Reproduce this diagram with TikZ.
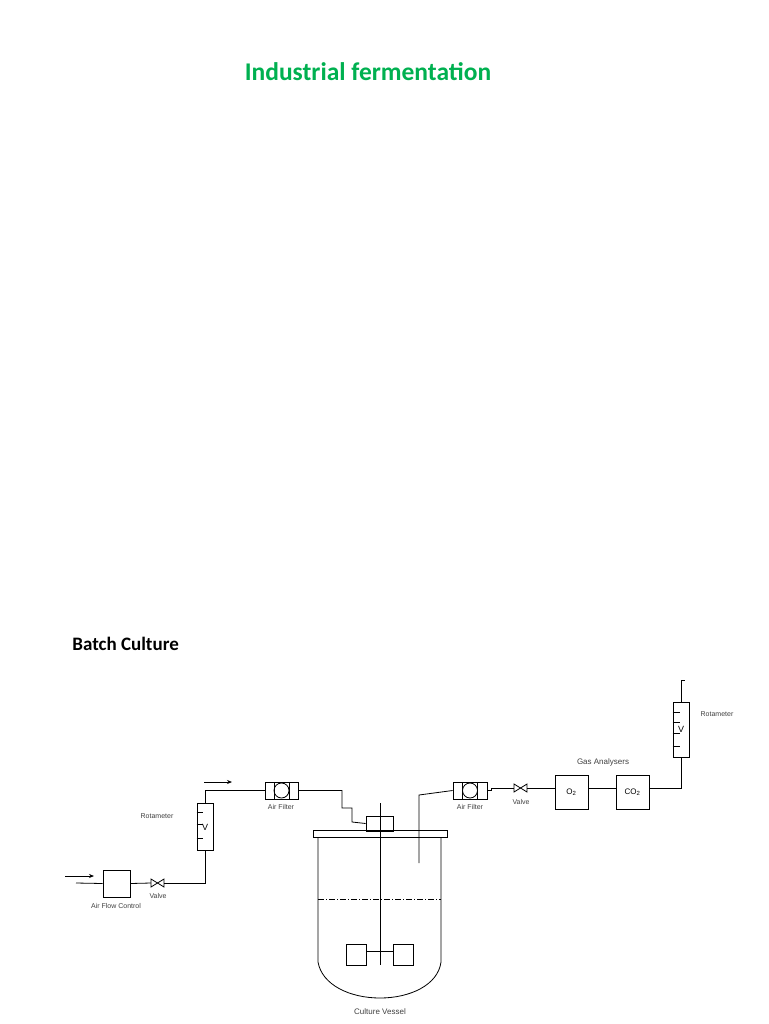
\documentclass[tikz,border=0pt]{standalone}
\usepackage{fontspec}
\setmainfont{Carlito}
\newfontfamily\arial{Liberation Sans}
\usetikzlibrary{arrows.meta}
\definecolor{tgreen}{RGB}{0,176,80}
\begin{document}
\begin{tikzpicture}[x=1pt,y=-1pt,line width=0.8pt,
  lbl/.style={font=\arial\fontsize{7}{8}\selectfont,text=black!75,inner sep=0},
  box/.style={draw,minimum width=27pt,minimum height=27pt,inner sep=0},
  arr/.style={-{Stealth[length=5pt,width=4pt]}}]
\useasboundingbox (0,0) rectangle (768,1024);
\node[font=\bfseries\fontsize{25.5}{28}\selectfont,text=tgreen] (title) at (368,72) {Industrial fermentation};
\node[font=\bfseries\fontsize{19}{21}\selectfont,anchor=west,inner sep=0] (batch) at (72,644) {Batch Culture};
% left side
\coordinate (a1) at (65,876); \coordinate (a2) at (94,876);
\draw[arr] (a1) -- (a2);
\node[box] (afc) at (116.5,883.5) {};
\node[lbl] (afcl) at (116,906) {Air Flow Control};
\coordinate (in) at (76,883);
\draw (in) -- (afc.west);
% valve 1
\coordinate (v1a) at (151,883); \coordinate (v1b) at (164,883);
\draw (151,879)--(164,887)--(164,879)--(151,887)--cycle;
\node[lbl] (v1l) at (158,896) {Valve};
\draw (afc.east) -- (v1a);
\node[draw,minimum width=16pt,minimum height=47pt,inner sep=0] (rot1) at (205,826.5) {};
\draw (v1b) -| (rot1.south);
\foreach \y in {812,824,838} \draw (rot1.west|-0,\y) -- ++(6,0);
\node[font=\arial\fontsize{9}{9}\selectfont,inner sep=0] (rv1) at (205,827) {V};
\node[lbl] (rot1l) at (157,816) {Rotameter};
\coordinate (a3) at (204,782); \coordinate (a4) at (232,782);
\draw[arr] (a3) -- (a4);
% air filter 1
\node[draw,minimum width=33pt,minimum height=17pt,inner sep=0] (af1) at (281.5,790.5) {};
\draw (274,782)--(274,799) (289,782)--(289,799);
\draw (281.5,790.5) circle (7.5);
\node[lbl] (af1l) at (281,807) {Air Filter};
\draw (rot1.north) |- (af1.west);
% vessel
\node[draw,minimum width=27pt,minimum height=15pt,inner sep=0] (sp) at (379.5,823.5) {};
\draw (af1.east) -- (342,790.5) -- (342,808) -- (352,808) -- (352,822) -- (sp.west);
\draw (313,830) rectangle (447,837);
\draw (318,837) -- (318,962) .. controls (322,985) and (350,998) .. (380,998) .. controls (410,998) and (438,985) .. (441,962) -- (441,837);
\draw[line width=0.6pt,dash pattern=on 6pt off 2pt on 1pt off 2pt] (318,899) -- (441,899);
\draw (380,803) -- (380,965);
\node[draw,minimum width=20pt,minimum height=21pt,inner sep=0] (imp1) at (356,954.5) {};
\node[draw,minimum width=20pt,minimum height=21pt,inner sep=0] (imp2) at (403,954.5) {};
\draw (imp1.east|-0,951) -- (imp2.west|-0,951);
\node[lbl,font=\arial\fontsize{8}{9}\selectfont] (cvl) at (380,1012) {Culture Vessel};
% right side
\node[draw,minimum width=34pt,minimum height=17pt,inner sep=0] (af2) at (470,790.5) {};
\draw (462.5,782)--(462.5,799) (477.5,782)--(477.5,799);
\draw (470,790.5) circle (7.5);
\node[lbl] (af2l) at (470,807) {Air Filter};
\draw (419,863) -- (419,795) -- (af2.west);
\coordinate (v2a) at (514,788); \coordinate (v2b) at (527,788);
\draw (514,784)--(527,792)--(527,784)--(514,792)--cycle;
\node[lbl] (v2l) at (521,802) {Valve};
\draw (af2.east) -- (491,790.5) -- (491,788) -- (v2a);
\node[box,minimum width=33pt,minimum height=34pt,font=\arial\fontsize{8}{9}\selectfont] (o2) at (571.5,792) {O\textsubscript{2}};
\node[box,minimum width=33pt,minimum height=34pt,font=\arial\fontsize{8}{9}\selectfont] (co2) at (632.5,792) {CO\textsubscript{2}};
\node[lbl,font=\arial\fontsize{8}{9}\selectfont] (gal) at (603,762) {Gas Analysers};
\draw (v2b) -- (o2.west|-0,788);
\draw (o2.east|-0,788) -- (co2.west|-0,788);
\node[draw,minimum width=16pt,minimum height=55pt,inner sep=0] (rot2) at (681,729.5) {};
\draw (co2.east|-0,788) -| (rot2.south);
\foreach \y in {712,722,733,746} \draw (rot2.west|-0,\y) -- ++(7,0);
\node[font=\arial\fontsize{9}{9}\selectfont,inner sep=0] (rv2) at (681,729) {V};
\node[lbl] (rot2l) at (717,714) {Rotameter};
\coordinate (top) at (685,680);
\draw (rot2.north) -- (681,680) -- (top);
\end{tikzpicture}
\end{document}
